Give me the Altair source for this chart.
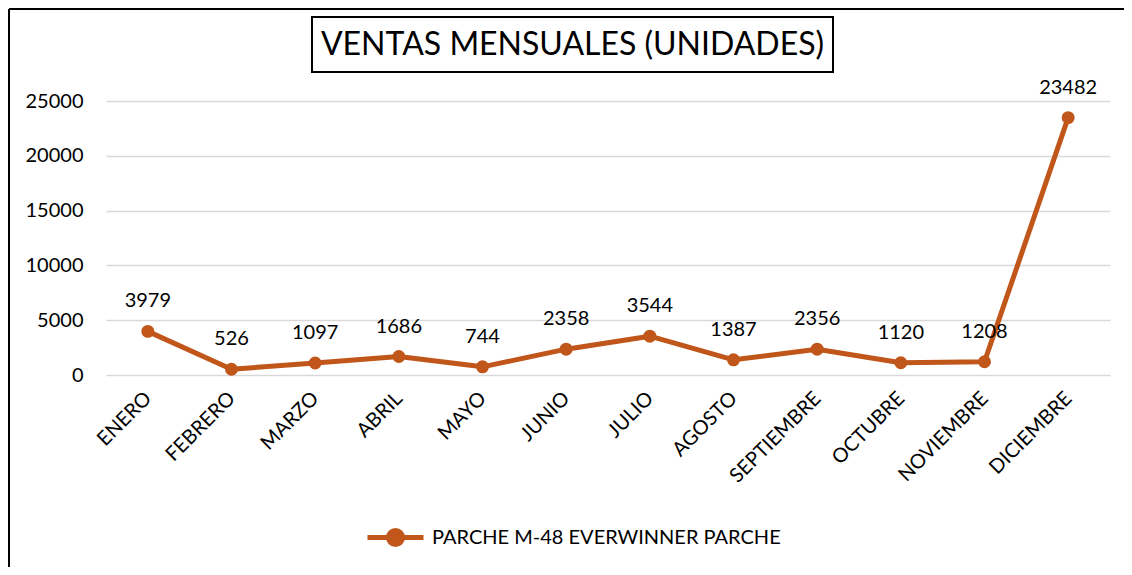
import altair as alt
import pandas as pd

months = ["ENERO", "FEBRERO", "MARZO", "ABRIL", "MAYO", "JUNIO", "JULIO",
          "AGOSTO", "SEPTIEMBRE", "OCTUBRE", "NOVIEMBRE", "DICIEMBRE"]
ventas = [3979, 526, 1097, 1686, 744, 2358, 3544, 1387, 2356, 1120, 1208, 23482]
series_name = "PARCHE M-48 EVERWINNER PARCHE"
title_text = "VENTAS MENSUALES (UNIDADES)"
y_ticks = [0, 5000, 10000, 15000, 20000, 25000]

df = pd.DataFrame({"mes": months, "ventas": ventas, "serie": [series_name] * len(months)})

COLOR = "#C0561A"
FONT = "Lato"
W, H = 1004, 274
PAD = {"left": 98, "top": 93, "right": 14, "bottom": 192}

x = alt.X("mes:N", sort=months, title=None,
          axis=alt.Axis(labelAngle=-45, labelAlign="right", labelBaseline="middle",
                        labelPadding=20, domain=False, ticks=False, grid=False,
                        labelFont=FONT, labelFontSize=20, labelColor="black"))
y = alt.Y("ventas:Q", title=None,
          scale=alt.Scale(domain=[0, 25000], nice=False),
          axis=alt.Axis(values=y_ticks, format="d", domain=False, ticks=False,
                        grid=True, gridColor="#D9D9D9", gridWidth=1.5,
                        labelPadding=23, labelFont=FONT, labelFontSize=20,
                        labelColor="black"))

legend_path = ("M-1,0L1,0M-0.25,0A0.25,0.25,0,1,1,0.25,0"
               "A0.25,0.25,0,1,1,-0.25,0Z")

base = alt.Chart(df)

line = base.mark_line(strokeWidth=5, strokeCap="round", strokeJoin="round",
                      color=COLOR).encode(x=x, y=y)

points = base.mark_point(filled=True, size=168, opacity=1).encode(
    x=x, y=y,
    color=alt.Color("serie:N", scale=alt.Scale(range=[COLOR]),
                    legend=alt.Legend(title=None, orient="none", legendX=259, legendY=406,
                                      symbolType=legend_path, symbolSize=3136,
                                      symbolStrokeWidth=5, symbolStrokeColor=COLOR,
                                      symbolFillColor=COLOR, labelFont=FONT,
                                      labelFontSize=20, labelColor="black",
                                      labelOffset=6, labelLimit=0)))

labels = base.mark_text(dy=-24, baseline="alphabetic", font=FONT, fontSize=20,
                        color="black").encode(x=x, y=y, text=alt.Text("ventas:Q", format="d"))

one = alt.Data(values=[{"k": 1}])

title_box = alt.Chart(one).mark_rect(fill="white", stroke="black", strokeWidth=2).encode(
    x=alt.value(206), x2=alt.value(727), y=alt.value(-84), y2=alt.value(-29))
title = alt.Chart(one).mark_text(font=FONT, fontSize=32, align="center",
                                 baseline="middle", color="black").encode(
    x=alt.value(466.5), y=alt.value(-56), text=alt.value(title_text))

frame_left = alt.Chart(one).mark_rule(color="black", strokeWidth=2).encode(
    x=alt.value(-97), y=alt.value(-92), y2=alt.value(1000))
frame_top = alt.Chart(one).mark_rule(color="black", strokeWidth=2).encode(
    x=alt.value(-97), x2=alt.value(2000), y=alt.value(-92))

chart = alt.layer(frame_left, frame_top, title_box, title, line, points, labels).properties(
    width=W, height=H,
    autosize=alt.AutoSizeParams(type="none"),
    padding=PAD,
    background="white",
).configure_view(stroke=None)

chart.save("out.html", embed_options={"renderer": "svg", "actions": False})
